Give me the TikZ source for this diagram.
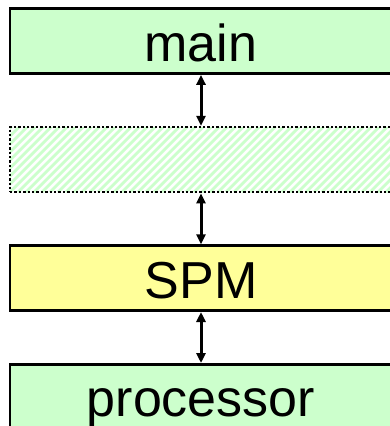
\documentclass[tikz,border=0pt]{standalone}
\usepackage{fontspec}
\setmainfont{Liberation Sans}
\usepackage{tikz}
\usetikzlibrary{positioning, arrows.meta}

\definecolor{memgreen}{HTML}{CCFFCC}
\definecolor{spmyellow}{HTML}{FFFF99}

\begin{document}
\begin{tikzpicture}[
        % vertical gap between the levels
        node distance=51pt,
        % memory level box
        block/.style={
            rectangle,
            draw=black,
            line width=2.6pt,
            minimum width=382pt,
            minimum height=65pt,
            inner sep=0pt,
            text height=40pt,
            text depth=0pt,
            text centered,
            font=\fontsize{52}{60}\selectfont
        },
        % empty level, hatched and dotted
        ghost/.style={
            block,
            line width=2.6pt,
            dash pattern=on 2.4pt off 2pt,
            path picture={
                \foreach \s in {-80,-72,...,400}
                    \draw[memgreen, solid, line width=2.8pt]
                        ([xshift=\s pt]path picture bounding box.south west)
                        -- ++(80pt,80pt);
            }
        },
        % two-way link
        arrow/.style={
            {Triangle[length=10pt,width=9pt]}-{Triangle[length=10pt,width=9pt]},
            line width=3pt
        }
    ]

    \useasboundingbox (0,0) rectangle (389pt,-426pt);

    % the levels, from top to bottom
    \node[block, fill=memgreen] (mem) at (201pt,-41pt) {main};
    \node[ghost, below=of mem] (gap) {};
    \node[block, fill=spmyellow, below=of gap] (spm) {SPM};
    \node[block, fill=memgreen, below=of spm] (cpu) {processor};

    % links between levels
    \draw[arrow] (mem) -- (gap);
    \draw[arrow] (gap) -- (spm);
    \draw[arrow] (spm) -- (cpu);

\end{tikzpicture}
\end{document}
